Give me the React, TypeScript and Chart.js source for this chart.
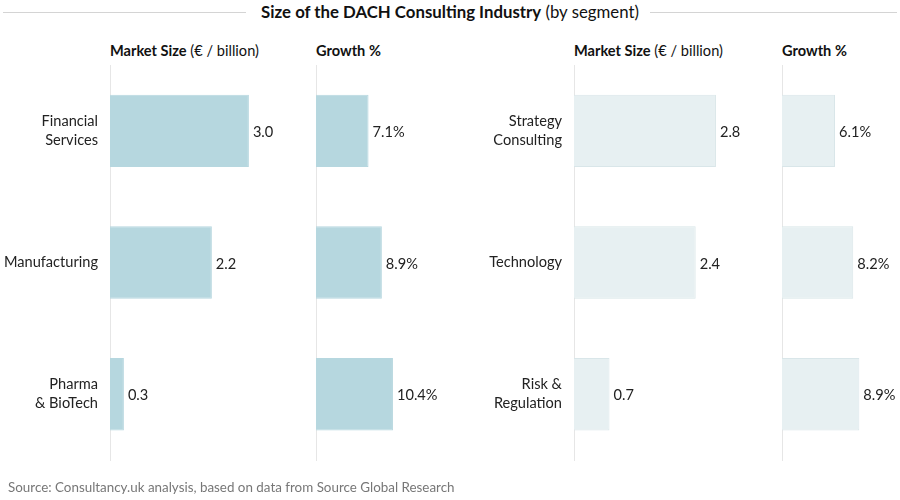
import React, { useEffect, useRef } from "react";
import { Chart, registerables } from "chart.js";

Chart.register(...registerables);

const sectorCategories: string[][] = [["Financial", "Services"], ["Manufacturing"], ["Pharma", "& BioTech"]];
const sectorMarketSize: number[] = [3.0, 2.2, 0.3];
const sectorGrowth: number[] = [7.1, 8.9, 10.4];

const serviceCategories: string[][] = [["Strategy", "Consulting"], ["Technology"], ["Risk &", "Regulation"]];
const serviceMarketSize: number[] = [2.8, 2.4, 0.7];
const serviceGrowth: number[] = [6.1, 8.2, 8.9];

const FONT = "Lato, 'Open Sans', sans-serif";

type PanelProps = {
  left: number;
  width: number;
  axisWidth: number;
  labels: string[][];
  values: number[];
  max: number;
  padRight: number;
  showLabels: boolean;
  suffix: string;
  color: string;
  border: string;
};

function Panel(p: PanelProps) {
  const ref = useRef<HTMLCanvasElement>(null);
  useEffect(() => {
    if (!ref.current) return;
    const valueLabelPlugin = {
      id: "valueLabels",
      afterDatasetsDraw(chart: any) {
        const ctx = chart.ctx;
        const meta = chart.getDatasetMeta(0);
        ctx.save();
        ctx.font = `14.6px ${FONT}`;
        ctx.fillStyle = "#222";
        ctx.textBaseline = "middle";
        ctx.textAlign = "left";
        meta.data.forEach((el: any, i: number) => {
          const v = Number(chart.data.datasets[0].data[i]);
          ctx.fillText(v.toFixed(1) + p.suffix, el.x + 4, el.y + 1.5);
        });
        ctx.restore();
      },
    };
    const chart = new Chart(ref.current, {
      type: "bar",
      data: {
        labels: p.labels,
        datasets: [
          {
            data: p.values,
            backgroundColor: p.color,
            borderColor: p.border,
            borderWidth: 1,
            barPercentage: 0.55,
            categoryPercentage: 1,
          },
        ],
      },
      options: {
        indexAxis: "y",
        animation: false,
        responsive: false,
        events: [],
        layout: { padding: { top: 65, bottom: 40, left: 0, right: p.padRight } },
        plugins: {
          legend: { display: false },
          tooltip: { enabled: false },
        },
        scales: {
          x: { display: false, min: 0, max: p.max },
          y: {
            display: true,
            grid: { display: false, drawTicks: false },
            border: { display: true, color: "#e6e6e6", width: 1 },
            ticks: {
              display: p.showLabels,
              padding: 12,
              color: "#222",
              font: { family: FONT, size: 14.6, lineHeight: 1.3 },
            },
            afterFit: (s: any) => {
              s.width = p.axisWidth;
            },
          },
        },
      },
      plugins: [valueLabelPlugin],
    });
    return () => chart.destroy();
  }, []);
  return (
    <canvas
      ref={ref}
      width={p.width}
      height={500}
      style={{ position: "absolute", left: p.left, top: 0, width: p.width, height: 500 }}
    />
  );
}

const headerStyle = (left: number): React.CSSProperties => ({
  position: "absolute",
  left,
  top: 42,
  fontFamily: FONT,
  fontSize: 14.6,
  color: "#111",
  whiteSpace: "nowrap",
});

export default function App() {
  useEffect(() => {
    document.body.style.margin = "0";
  }, []);
  const dark = "#b6d7df";
  const darkB = "#b6d7df";
  const light = "#e7f0f2";
  const lightB = "#d9e6e9";
  return (
    <div style={{ position: "relative", width: 900, height: 500, background: "#fff", overflow: "hidden" }}>
      <div style={{ position: "absolute", left: 3, width: 243, top: 12, height: 1, background: "#d4d4d4" }} />
      <div style={{ position: "absolute", left: 650, width: 247, top: 12, height: 1, background: "#d4d4d4" }} />
      <div
        style={{
          position: "absolute",
          left: 0,
          width: 900,
          top: 1,
          textAlign: "center",
          fontFamily: FONT,
          fontSize: 16.8,
          color: "#111",
        }}
      >
        <b>Size of the DACH Consulting Industry</b> (by segment)
      </div>
      <div style={headerStyle(110)}>
        <b>Market Size</b> (€ / billion)
      </div>
      <div style={headerStyle(316)}>
        <b>Growth %</b>
      </div>
      <div style={headerStyle(574)}>
        <b>Market Size</b> (€ / billion)
      </div>
      <div style={headerStyle(782)}>
        <b>Growth %</b>
      </div>
      <Panel left={0} width={300} axisWidth={110} labels={sectorCategories} values={sectorMarketSize} max={4} padRight={300 - 110 - 4 * 46.3} showLabels={true} suffix="" color={dark} border={darkB} />
      <Panel left={300} width={150} axisWidth={16} labels={sectorCategories} values={sectorGrowth} max={15} padRight={150 - 16 - 15 * 7.4} showLabels={false} suffix="%" color={dark} border={darkB} />
      <Panel left={450} width={320} axisWidth={124} labels={serviceCategories} values={serviceMarketSize} max={3.5} padRight={320 - 124 - 3.5 * 50.7} showLabels={true} suffix="" color={light} border={lightB} />
      <Panel left={770} width={130} axisWidth={12} labels={serviceCategories} values={serviceGrowth} max={12} padRight={130 - 12 - 12 * 8.69} showLabels={false} suffix="%" color={light} border={lightB} />
      <div
        style={{
          position: "absolute",
          left: 8,
          top: 479,
          fontFamily: FONT,
          fontSize: 13.4,
          color: "#777",
          whiteSpace: "nowrap",
        }}
      >
        Source: Consultancy.uk analysis, based on data from Source Global Research
      </div>
    </div>
  );
}
